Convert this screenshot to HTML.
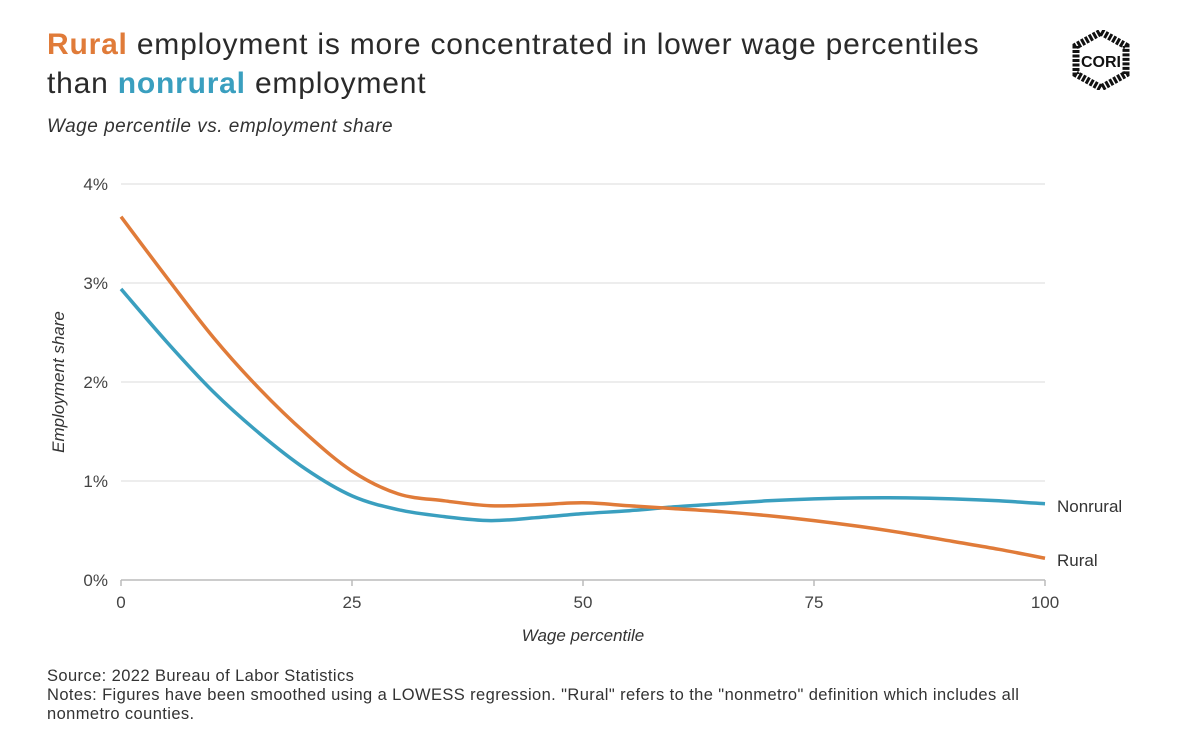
<!DOCTYPE html>
<html><head><meta charset="utf-8"><style>
body{margin:0;width:1200px;height:744px;background:#fff;font-family:"Liberation Sans",sans-serif;color:#222;position:relative;overflow:hidden}
.t{position:absolute;left:47px;top:25px;font-size:30px;letter-spacing:0.8px;line-height:39px;color:#2a2a2a}
.sub{position:absolute;left:47px;top:116px;font-size:19px;letter-spacing:0.5px;font-style:italic;color:#333}
.src{position:absolute;left:47px;top:667px;font-size:16.5px;letter-spacing:0.4px;line-height:19px;color:#333}
</style></head><body>
<div class="t"><b style="color:#e07b39">Rural</b> employment is more concentrated in lower wage percentiles<br>than <b style="color:#3a9fbf">nonrural</b> employment</div>
<div class="sub">Wage percentile vs. employment share</div>
<svg style="position:absolute;left:1072px;top:30px" width="58" height="60" viewBox="0 0 58 60">
<polygon points="29,2 54,16 54,44 29,58 4,44 4,16" fill="none" stroke="#111" stroke-width="7" stroke-dasharray="3 1.5"/>
<rect x="10" y="20" width="38" height="20" fill="#fff"/>
<text x="29" y="37" text-anchor="middle" font-family="Liberation Sans" font-weight="bold" font-size="16" fill="#111">CORI</text>
</svg>
<svg id="c" width="1200" height="744" style="position:absolute;left:0;top:0"></svg>
<div class="src">Source: 2022 Bureau of Labor Statistics<br>Notes: Figures have been smoothed using a LOWESS regression. "Rural" refers to the "nonmetro" definition which includes all<br>nonmetro counties.</div>
<script>
const xs=[0,5,10,15,20,25,30,35,40,45,50,55,60,65,70,75,80,85,90,95,100];
const rural=[3.67,3.05,2.45,1.93,1.48,1.1,0.87,0.8,0.75,0.76,0.78,0.75,0.72,0.69,0.65,0.6,0.54,0.47,0.39,0.31,0.22];
const nonrural=[2.94,2.4,1.9,1.48,1.12,0.85,0.71,0.64,0.6,0.63,0.67,0.7,0.74,0.77,0.8,0.82,0.83,0.83,0.82,0.8,0.77];
const yTicks=[0,1,2,3,4];
const xTicks=[0,25,50,75,100];
const svg=document.getElementById('c');const NS='http://www.w3.org/2000/svg';
const X=v=>121+v*9.24, Y=v=>580-v*99;
function el(t,a,txt){const e=document.createElementNS(NS,t);for(const k in a)e.setAttribute(k,a[k]);if(txt!==undefined)e.textContent=txt;svg.appendChild(e);return e;}
yTicks.forEach(t=>{
 const g=el('line',{x1:121,x2:1045,y1:Y(t),y2:Y(t),stroke:t?'#e2e2e2':'#bbb','stroke-width':t?1.2:1.5});
 
 
 const l=el('text',{x:108,y:Y(t)+6,'text-anchor':'end','font-size':17,fill:'#444','font-family':'Liberation Sans'},t+'%');
 
 
});
xTicks.forEach(t=>{
 const k=el('line',{x1:X(t),x2:X(t),y1:580,y2:586,stroke:'#bbb','stroke-width':1.5});
 
 
 const l=el('text',{x:X(t),y:608,'text-anchor':'middle','font-size':17,fill:'#444','font-family':'Liberation Sans'},t);
 
 
});
const xt=el('text',{x:583,y:641,'text-anchor':'middle','font-size':17,'font-style':'italic',fill:'#333','font-family':'Liberation Sans'},'Wage percentile');


const yt=el('text',{x:0,y:0,transform:'translate(64,382) rotate(-90)','text-anchor':'middle','font-size':17,'font-style':'italic',fill:'#333','font-family':'Liberation Sans'},'Employment share');


function path(vals){const p=xs.map((x,i)=>[X(x),Y(vals[i])]);let d='M'+p[0];for(let i=0;i<p.length-1;i++){const a=p[i-1]||p[i],b=p[i],c=p[i+1],e=p[i+2]||c;d+=`C${b[0]+(c[0]-a[0])/6},${b[1]+(c[1]-a[1])/6} ${c[0]-(e[0]-b[0])/6},${c[1]-(e[1]-b[1])/6} ${c[0]},${c[1]}`;}return d;}
const ln=el('path',{d:path(nonrural),fill:'none',stroke:'#3a9fbf','stroke-width':3.5});


const lr=el('path',{d:path(rural),fill:'none',stroke:'#e07b39','stroke-width':3.5});


const a=el('text',{x:1057,y:Y(nonrural[nonrural.length-1])+8,'font-size':17,fill:'#333','font-family':'Liberation Sans'},'Nonrural');


const b=el('text',{x:1057,y:Y(rural[rural.length-1])+8,'font-size':17,fill:'#333','font-family':'Liberation Sans'},'Rural');


</script>
</body></html>
